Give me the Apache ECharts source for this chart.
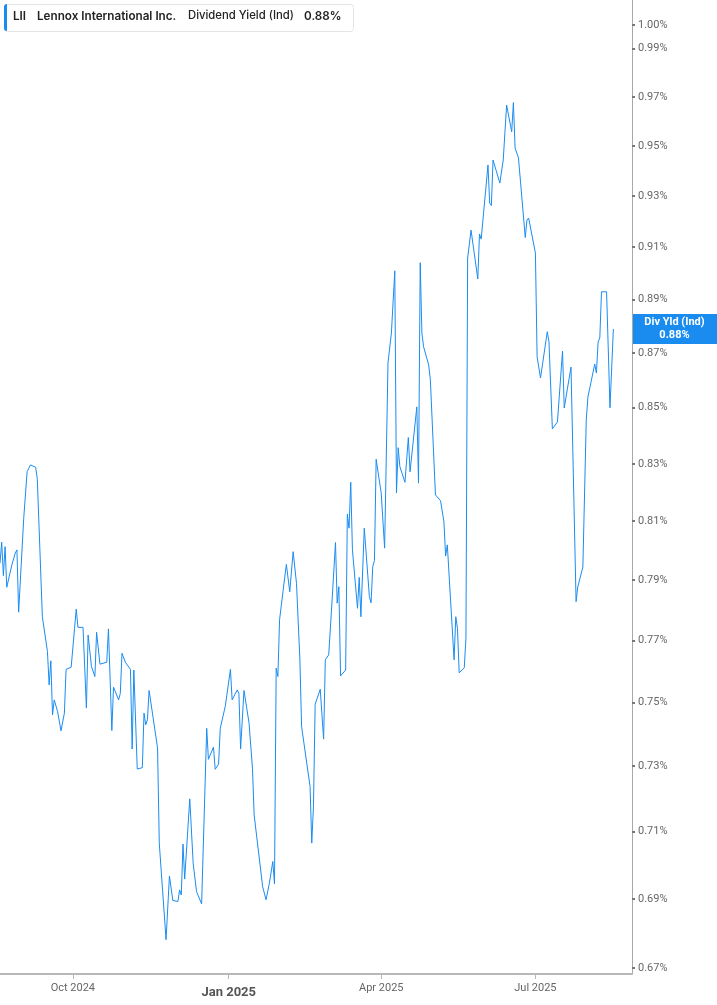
<!DOCTYPE html>
<html>
<head>
<meta charset="utf-8">
<title>LII Dividend Yield</title>
<script src="https://cdn.jsdelivr.net/npm/echarts@6/dist/echarts.min.js"></script>
<style>
html, body { margin: 0; padding: 0; background: #fff; }
#chart { width: 717px; height: 1005px; }
</style>
</head>
<body>
<div id="chart"></div>
<script>
// series
var dates = [
  '2024-08-19','2024-08-20','2024-08-21','2024-08-22','2024-08-23','2024-08-26','2024-08-28','2024-08-29','2024-08-30',
  '2024-09-02','2024-09-04','2024-09-05','2024-09-06','2024-09-09','2024-09-10','2024-09-13','2024-09-16','2024-09-17',
  '2024-09-18','2024-09-19','2024-09-20','2024-09-22','2024-09-24','2024-09-26','2024-09-27','2024-09-30',
  '2024-10-02','2024-10-03','2024-10-04','2024-10-07','2024-10-09','2024-10-10','2024-10-12','2024-10-14','2024-10-15',
  '2024-10-17','2024-10-18','2024-10-21','2024-10-22','2024-10-24','2024-10-25','2024-10-28','2024-10-29','2024-10-30',
  '2024-11-01','2024-11-04','2024-11-05','2024-11-06','2024-11-08','2024-11-11','2024-11-12','2024-11-13','2024-11-14',
  '2024-11-15','2024-11-20','2024-11-21','2024-11-25','2024-11-27','2024-11-29',
  '2024-12-02','2024-12-03','2024-12-04','2024-12-05','2024-12-06','2024-12-09','2024-12-11','2024-12-13','2024-12-16',
  '2024-12-19','2024-12-20','2024-12-23','2024-12-24','2024-12-26','2024-12-27','2024-12-30',
  '2025-01-02','2025-01-03','2025-01-06','2025-01-07','2025-01-08','2025-01-10','2025-01-13','2025-01-15','2025-01-16',
  '2025-01-21','2025-01-23','2025-01-25','2025-01-27','2025-01-28','2025-01-29','2025-01-30','2025-01-31',
  '2025-02-02','2025-02-04','2025-02-06','2025-02-07','2025-02-08','2025-02-10','2025-02-12','2025-02-13','2025-02-18',
  '2025-02-19','2025-02-20','2025-02-21','2025-02-24','2025-02-26','2025-02-27',
  '2025-03-01','2025-03-03','2025-03-05','2025-03-06','2025-03-07','2025-03-08','2025-03-11','2025-03-12','2025-03-13',
  '2025-03-14','2025-03-15','2025-03-18','2025-03-19','2025-03-20','2025-03-22','2025-03-25','2025-03-26','2025-03-27',
  '2025-03-28','2025-03-29',
  '2025-04-01','2025-04-03','2025-04-05','2025-04-07','2025-04-09','2025-04-10','2025-04-11','2025-04-12','2025-04-15',
  '2025-04-17','2025-04-18','2025-04-22','2025-04-23','2025-04-24','2025-04-25','2025-04-26','2025-04-29','2025-04-30',
  '2025-05-03','2025-05-06','2025-05-08','2025-05-09','2025-05-10','2025-05-14','2025-05-15','2025-05-16','2025-05-17',
  '2025-05-20','2025-05-21','2025-05-22','2025-05-24','2025-05-28','2025-05-29','2025-05-30',
  '2025-06-03','2025-06-04','2025-06-05','2025-06-06','2025-06-10','2025-06-12','2025-06-13','2025-06-14','2025-06-17',
  '2025-06-18','2025-06-19','2025-06-21','2025-06-25','2025-06-26','2025-06-27',
  '2025-07-01','2025-07-02','2025-07-04','2025-07-08','2025-07-09','2025-07-11','2025-07-14','2025-07-17','2025-07-18',
  '2025-07-22','2025-07-25','2025-07-26','2025-07-29','2025-07-31',
  '2025-08-01','2025-08-05','2025-08-06','2025-08-07','2025-08-08','2025-08-09','2025-08-12','2025-08-14','2025-08-16'
];
var yields = [
  0.7957,0.8028,0.7915,0.8013,0.7876,0.7951,0.7991,0.8002,0.7793,
  0.8110,0.8272,0.8269,0.8296,0.8288,0.8249,0.7778,0.7664,0.7556,
  0.7634,0.7460,0.7508,0.7471,0.7410,0.7466,0.7606,0.7613,
  0.7740,0.7803,0.7743,0.7743,0.7482,0.7718,0.7615,0.7583,0.7727,
  0.7623,0.7629,0.7629,0.7738,0.7411,0.7549,0.7508,0.7529,0.7658,
  0.7629,0.7606,0.7353,0.7604,0.7291,0.7295,0.7466,0.7429,0.7445,
  0.7538,0.7356,0.7065,0.6781,0.6967,0.6895,
  0.6892,0.6926,0.6911,0.7062,0.6958,0.7199,0.7005,0.6921,0.6885,
  0.7418,0.7321,0.7359,0.7290,0.7306,0.7418,0.7489,
  0.7606,0.7508,0.7540,0.7529,0.7353,0.7538,0.7434,0.7293,0.7150,
  0.6936,0.6897,0.6946,0.7010,0.6944,0.7610,0.7583,0.7768,
  0.7861,0.7953,0.7861,0.7856,0.7996,0.7889,0.7637,0.7423,0.7237,
  0.7065,0.7175,0.7494,0.7542,0.7384,0.7637,
  0.7653,0.7834,0.8027,0.7823,0.7878,0.7585,0.7604,0.8125,0.8076,
  0.8235,0.8002,0.7806,0.7909,0.7778,0.8076,0.7845,0.7824,0.7945,
  0.7966,0.8316,
  0.8197,0.8008,0.8664,0.8774,0.9009,0.8198,0.8357,0.8290,0.8235,
  0.8393,0.8272,0.8503,0.8232,0.9040,0.8774,0.8723,0.8656,0.8601,
  0.8191,0.8171,0.8098,0.7981,0.8019,0.7637,0.7778,0.7739,0.7595,
  0.7611,0.7708,0.9058,0.9166,0.8978,0.9151,0.9131,
  0.9423,0.9272,0.9262,0.9443,0.9351,0.9443,0.9451,0.9666,0.9557,
  0.9676,0.9491,0.9451,0.9137,0.9205,0.9213,
  0.9077,0.8686,0.8608,0.8779,0.8741,0.8424,0.8449,0.8707,0.8499,
  0.8648,0.7828,0.7877,0.7944,0.8456,
  0.8539,0.8659,0.8626,0.8741,0.8756,0.8929,0.8929,0.8500,0.8789
];

// axis ticks
var yTicks = [0.67, 0.69, 0.71, 0.73, 0.75, 0.77, 0.79, 0.81, 0.83, 0.85, 0.87, 0.89, 0.91, 0.93, 0.95, 0.97, 0.99, 1.00];
var xTicks = ['2024-10-01', '2025-01-01', '2025-04-01', '2025-07-01'];
var xTickLabels = ['Oct 2024', 'Jan 2025', 'Apr 2025', 'Jul 2025'];
var xRange = ['2024-08-19', '2025-08-27'];

var ticker = 'LII';
var company = 'Lennox International Inc.';
var metric = 'Dividend Yield (Ind)';
var tagName = 'Div Yld (Ind)';

var lineColor = '#1a8cf0';
var font = 'Roboto, "Liberation Sans", Arial, sans-serif';
var headFont = 'Inter, Roboto, sans-serif';

function toTime(s) { return new Date(s + 'T00:00:00').getTime(); }

// log scale: plot ln(value) on a linear axis, dates as timestamps
var seriesData = dates.map(function (d, i) { return [toTime(d), Math.log(yields[i])]; });
var xTickTimes = xTicks.map(toTime);

var chart = echarts.init(document.getElementById('chart'));

chart.setOption({
    animation: false,
    backgroundColor: '#fff',
    grid: { left: 0, right: 85, top: 0, bottom: 31, outerBoundsMode: 'none' },
    xAxis: {
        type: 'value',
        min: toTime(xRange[0]),
        max: toTime(xRange[1]),
        axisLine: { show: true, onZero: false, lineStyle: { color: '#b8b8b8', width: 2 } },
        axisTick: { show: true, customValues: xTickTimes, length: 5, lineStyle: { color: '#b8b8b8' } },
        axisLabel: {
            customValues: xTickTimes,
            margin: 9,
            color: '#666',
            fontFamily: font,
            fontSize: 11,
            formatter: function (value) {
                var txt = xTickLabels[xTickTimes.indexOf(value)] || '';
                return /^Jan/.test(txt) ? '{b|' + txt + '}' : txt;
            },
            rich: {
                b: { fontWeight: 'bold', fontSize: 13, color: '#555', fontFamily: font, padding: [3, 0, 0, 0] }
            }
        },
        splitLine: { show: false }
    },
    yAxis: {
        type: 'value',
        position: 'right',
        min: Math.log(0.6683),
        max: Math.log(1.0107),
        axisLine: { show: true, onZero: false, lineStyle: { color: '#a8a8a8', width: 1 } },
        axisTick: {
            show: true,
            customValues: yTicks.map(Math.log),
            length: 3,
            lineStyle: { color: '#777', width: 2 }
        },
        axisLabel: {
            customValues: yTicks.map(Math.log),
            margin: 6,
            color: '#666',
            fontFamily: font,
            fontSize: 11,
            formatter: function (v) { return Math.exp(v).toFixed(2) + '%'; }
        },
        splitLine: { show: false }
    },
    series: [{
        type: 'line',
        data: seriesData,
        showSymbol: false,
        symbol: 'none',
        lineStyle: { color: lineColor, width: 1 },
        clip: true
    }]
});

// header box and last-value tag
var lastVal = yields[yields.length - 1];
var lastTxt = lastVal.toFixed(2) + '%';
var tagY = chart.convertToPixel({ yAxisIndex: 0 }, Math.log(lastVal));

chart.setOption({
    graphic: [
        { type: 'rect', left: 4, top: 4, shape: { width: 349, height: 27, r: 3 },
          style: { fill: '#fff', stroke: '#e4e4e4', lineWidth: 1 } },
        { type: 'rect', left: 4, top: 4, shape: { width: 3, height: 27, r: [3, 0, 0, 3] },
          style: { fill: lineColor } },
        { type: 'text', left: 13, top: 10,
          style: { text: ticker, fill: '#222', font: '600 11.7px ' + headFont } },
        { type: 'text', left: 37, top: 10,
          style: { text: company, fill: '#222', font: '600 11.7px ' + headFont } },
        { type: 'text', left: 188, top: 10,
          style: { text: metric, fill: '#222', font: '500 11.3px ' + headFont } },
        { type: 'text', left: 304, top: 10,
          style: { text: lastTxt, fill: '#222', font: '600 11.7px ' + headFont } },
        { type: 'rect', left: 632, top: tagY - 15, shape: { width: 85, height: 30 },
          style: { fill: lineColor } },
        { type: 'text', x: 674.5, y: tagY - 7,
          style: { text: tagName, fill: '#fff', font: 'bold 11px ' + font, align: 'center', verticalAlign: 'middle' } },
        { type: 'text', x: 674.5, y: tagY + 6,
          style: { text: lastTxt, fill: '#fff', font: 'bold 11px ' + font, align: 'center', verticalAlign: 'middle' } }
    ]
});
</script>
</body>
</html>
